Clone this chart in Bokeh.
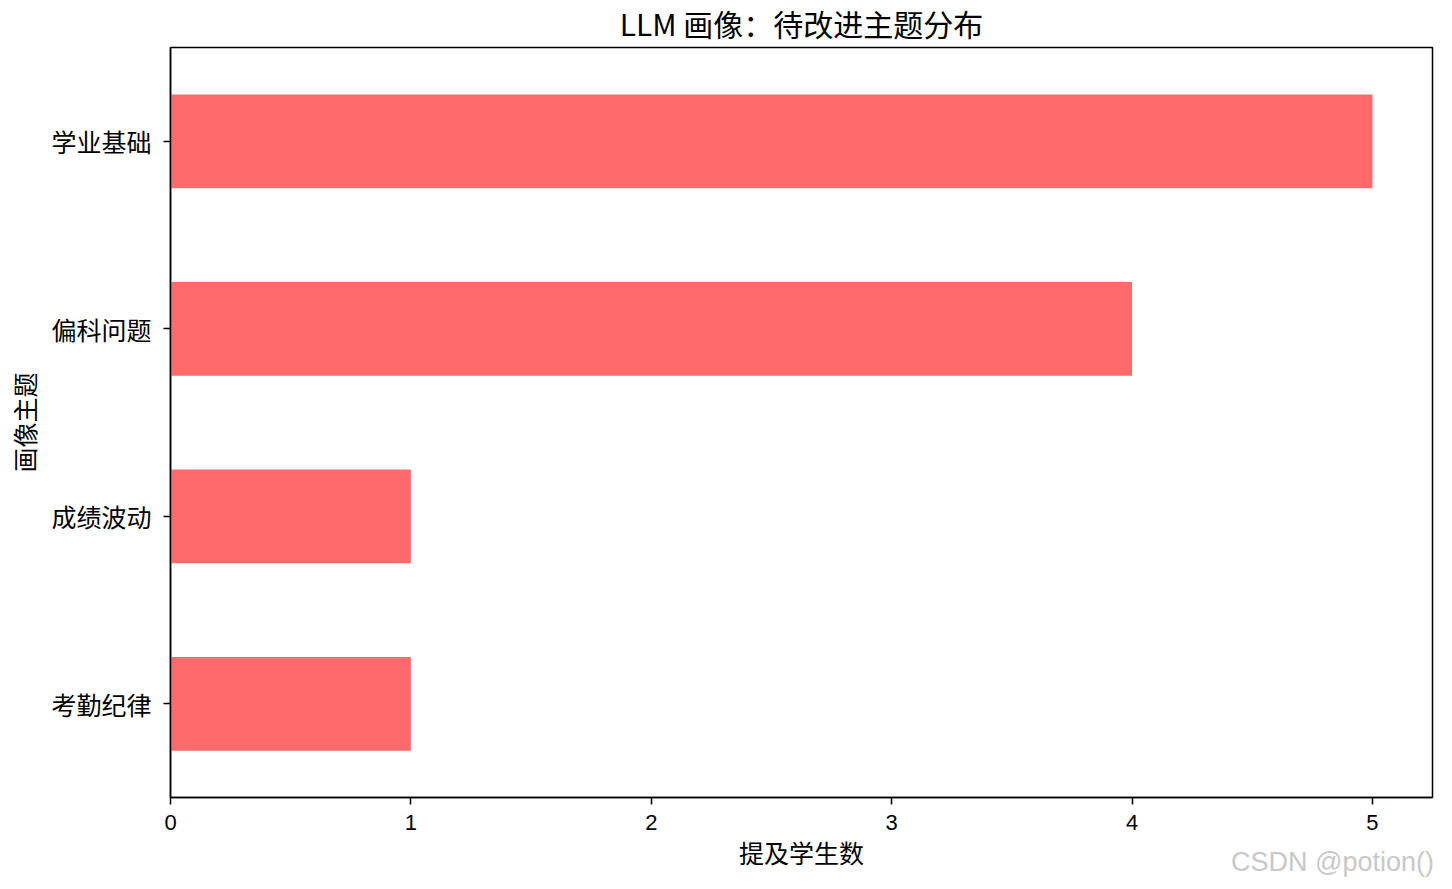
from bokeh.plotting import figure
from bokeh.models import Range1d, FactorRange, FixedTicker, Div
from bokeh.layouts import column
from bokeh.embed import file_html
from bokeh.resources import INLINE

# data (bottom to top, as in the chart)
topics = ["考勤纪律", "成绩波动", "偏科问题", "学业基础"]
counts = [1, 1, 4, 5]
x_ticks = [0, 1, 2, 3, 4, 5]

title_text = "LLM 画像：待改进主题分布"
x_label = "提及学生数"
y_label = "画像主题"
watermark = "CSDN @potion()"

CJK = "Noto Sans CJK SC"

p = figure(width=1436, height=872, output_backend="svg", toolbar_location=None,
           y_range=FactorRange(*topics), x_range=Range1d(0, 5.25),
           title=title_text, x_axis_label=x_label, y_axis_label=y_label)
p.min_border_left = 170
p.min_border_right = 4
p.min_border_top = 47
p.min_border_bottom = 74

p.hbar(y=topics, right=counts, left=0, height=0.5, color="#FF6B6B", line_color=None)

p.title.align = "center"
p.title.vertical_align = "top"
p.title.standoff = 1
p.title.text_font = CJK
p.title.text_font_size = "30px"
p.title.text_font_style = "normal"
p.title.text_color = "black"

p.xgrid.visible = False
p.ygrid.visible = False
p.outline_line_color = "black"
p.outline_line_width = 1.5

p.xaxis.ticker = FixedTicker(ticks=x_ticks)
for ax in (p.xaxis[0], p.yaxis[0]):
    ax.axis_line_color = "black"
    ax.axis_line_width = 1.5
    ax.major_tick_line_color = "black"
    ax.major_tick_line_width = 1.5
    ax.major_tick_out = 7
    ax.major_tick_in = 0
    ax.minor_tick_line_color = None
    ax.major_label_text_color = "black"
    ax.axis_label_text_font = CJK
    ax.axis_label_text_font_size = "25px"
    ax.axis_label_text_font_style = "normal"
    ax.axis_label_text_color = "black"

p.xaxis.major_label_text_font = "Liberation Sans"
p.xaxis.major_label_text_font_size = "22px"
p.xaxis.major_label_standoff = 10
p.xaxis.axis_label_standoff = 1
p.yaxis.major_label_text_font = CJK
p.yaxis.major_label_text_font_size = "25px"
p.yaxis.major_label_standoff = 12
p.yaxis.axis_label_standoff = 6

# watermark, pulled up over the bottom right corner of the plot
wm = Div(text=watermark, width=230, height=14, margin=(-17, 0, 0, 1204),
         styles={"font-family": "Liberation Sans", "font-size": "27px", "color": "#c8c8c8",
                 "line-height": "14px", "text-align": "right", "white-space": "nowrap"})

layout = column(p, wm)

open("out.html", "w").write(file_html(layout, INLINE))
